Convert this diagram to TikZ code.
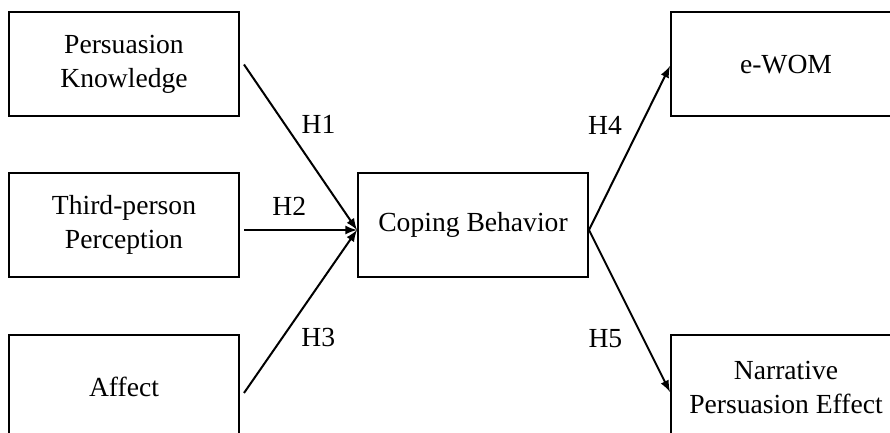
\documentclass[tikz,border=0pt]{standalone}
\usepackage{fontspec}
\setmainfont{Liberation Serif}
\usepackage{tikz}
\usetikzlibrary{arrows,calc,positioning}
\tikzset{%
	factor/.style = {draw, rectangle, line width=1pt, minimum width=115pt, minimum height=52pt, align=center, text centered, inner sep=2pt},
	arrow/.style  = {line width=1pt, -latex},
	hyp/.style    = {inner sep=0pt},
}
\newcommand{\boxfont}{\fontsize{13.8}{17}\selectfont}

\begin{document}
\begin{tikzpicture}[x=0.5pt, y=-0.5pt, font=\boxfont]
	\useasboundingbox (0,0) rectangle (890,433);
	\clip (0,0) rectangle (890,433);
	% antecedents
	\node[factor] (pk)  at (124,64.5) {Persuasion\\Knowledge};
	\node[factor] (tpp) at (124,225)  {Third-person\\Perception};
	\node[factor] (aff) at (124,387)  {Affect};
	% mediator
	\node[factor] (cope) at (473,225) {Coping Behavior};
	% outcomes
	\node[factor] (ewom) at (786,64.5) {e-WOM};
	\node[factor] (npe)  at (786,387)  {Narrative\\Persuasion Effect};

	\coordinate (cin)  at ([yshift=-2.5pt]cope.west);
	\coordinate (cout) at ([yshift=-2.5pt]cope.east);

	\draw[arrow] ([xshift=2pt]pk.east) -- node[hyp, pos=0.36, anchor=west, xshift=8pt] {H1} (cin);
	\draw[arrow] ([xshift=2pt,yshift=-2.5pt]tpp.east) -- node[hyp, pos=0.4, above=6.5pt] {H2} (cin);
	\draw[arrow] ([xshift=2pt,yshift=-3pt]aff.east) -- node[hyp, pos=0.34, anchor=west, xshift=9pt] {H3} (cin);
	\draw[arrow] (cout) -- node[hyp, pos=0.64, anchor=east, xshift=-9pt] {H4} ([yshift=-0.75pt]ewom.west);
	\draw[arrow] (cout) -- node[hyp, pos=0.67, anchor=east, xshift=-10pt] {H5} ([yshift=-2.5pt]npe.west);
\end{tikzpicture}
\end{document}
